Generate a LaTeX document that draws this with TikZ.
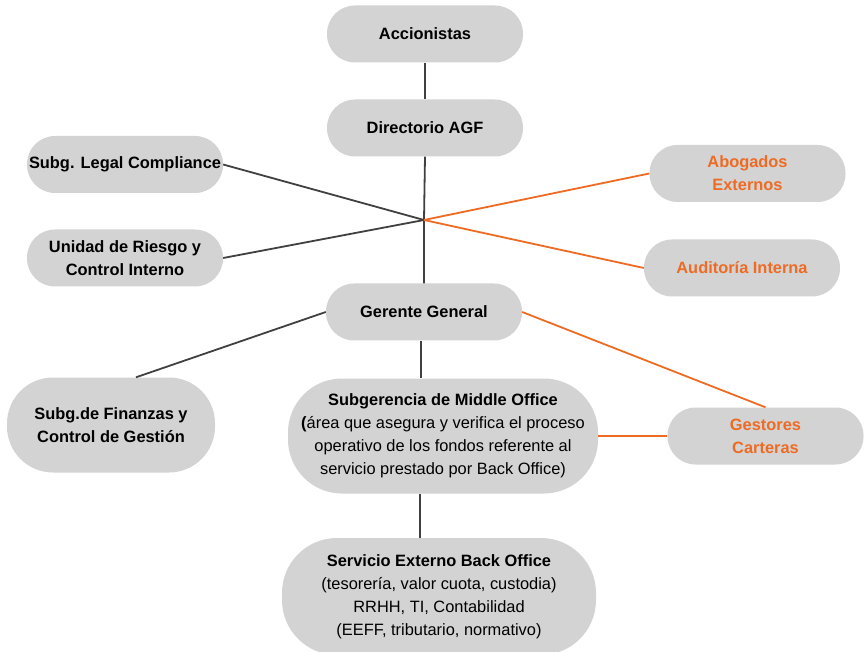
\documentclass[tikz,border=0pt]{standalone}
\usepackage{fontspec}
\setmainfont{Liberation Sans}
\usetikzlibrary{calc}
\definecolor{boxgray}{HTML}{D3D3D3}
\definecolor{linkgray}{HTML}{404040}
\definecolor{accent}{HTML}{EE6B24}
\begin{document}
\begin{tikzpicture}[x=1pt,y=-1pt,
  unit/.style={rectangle, fill=boxgray, inner sep=0pt, align=center,
    font=\fontsize{16.4}{23}\selectfont, text=black},
  pill/.style={unit, minimum width=196pt, minimum height=57pt, rounded corners=28pt},
  boldtext/.style={font=\fontsize{16.4}{23}\selectfont\bfseries},
  ext/.style={pill, text=accent, boldtext},
  link/.style={draw=linkgray, line width=1.8pt},
  extlink/.style={draw=accent, line width=1.8pt}]
\useasboundingbox (0,0) rectangle (865,652);

% governance chain
\node[pill, boldtext] (acc) at (425,34) {Accionistas};
\node[pill, boldtext] (dir) at (425,128) {Directorio AGF};
\node[pill, boldtext] (ger) at (424,312) {Gerente General};

% staff units
\node[pill, boldtext] (legal) at (125,164.5) {Subg. Legal Compliance};
\node[pill, boldtext] (riesgo) at (125,258) {Unidad de Riesgo y\\Control Interno};
\node[ext] (abog) at (747.5,173.5) {Abogados\\Externos};
\node[ext] (audit) at (742,268) {Auditoría Interna};

% operating units
\node[unit, boldtext, minimum width=208pt, minimum height=95pt, rounded corners=46pt]
  (fin) at (111,425) {Subg.de Finanzas y\\Control de Gestión};
\node[unit, minimum width=310pt, minimum height=115pt, rounded corners=54pt] (mid) at (443,436)
  {\textbf{Subgerencia de Middle Office}\\{\bfseries (}área que asegura y verifica el proceso\\operativo de los fondos referente al\\servicio prestado por Back Office)};
\node[ext] (gest) at (765.5,436) {Gestores\\Carteras};
\node[unit, minimum width=314pt, minimum height=117pt, rounded corners=55pt] (back) at (439,596.5)
  {\textbf{Servicio Externo Back Office}\\(tesorería, valor cuota, custodia)\\RRHH, TI, Contabilidad\\(EEFF, tributario, normativo)};

% connectors
\coordinate (hub) at (424,220);
\coordinate (spine) at (421,0);
\draw[link] (acc.south) -- (dir.north);
\draw[link] (dir.south) -- (hub) -- (ger.north);
\draw[link] (legal.east) -- (hub);
\draw[link] (riesgo.east) -- (hub);
\draw[extlink] (hub) -- (abog.west);
\draw[extlink] (hub) -- (audit.west);
\draw[link] (ger.west) -- ($(fin.north)+(25,0)$);
\draw[link] (spine |- ger.south) -- (spine |- mid.north);
\draw[link] ($(spine |- mid.south)+(-1,0)$) -- ($(spine |- back.north)+(-1,0)$);
\draw[extlink] (ger.east) -- (gest.north);
\draw[extlink] (mid.east) -- (gest.west);
\end{tikzpicture}
\end{document}
